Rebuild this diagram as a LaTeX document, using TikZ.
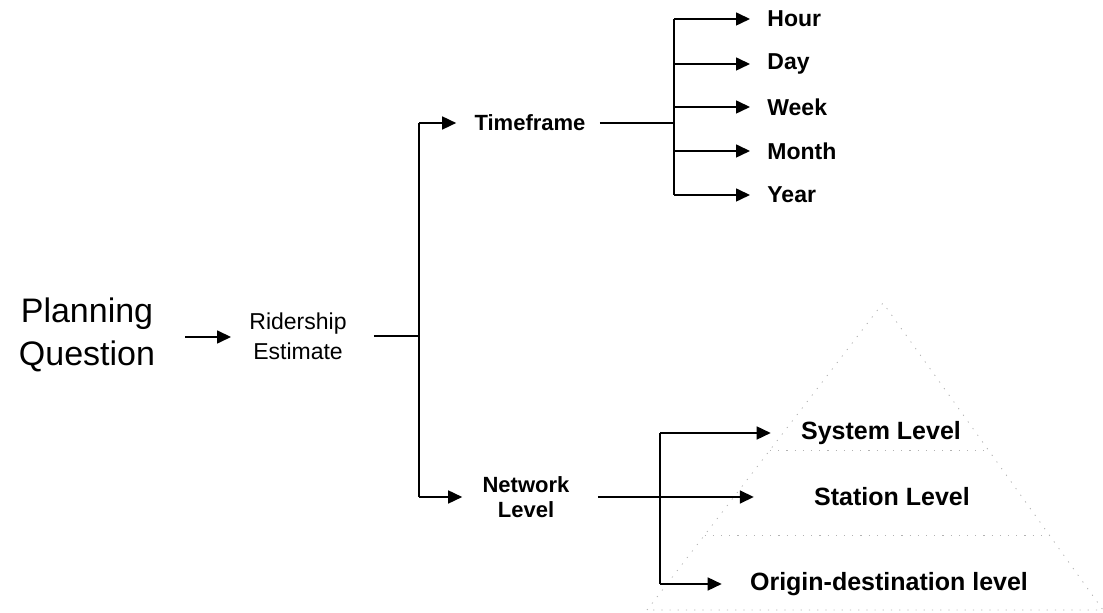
\documentclass[tikz,border=0pt]{standalone}
\usepackage{fontspec}
\setmainfont{Liberation Sans}
\usetikzlibrary{arrows.meta}
\usetikzlibrary{calc}

\begin{document}
\begin{tikzpicture}[x=0.5pt,y=-0.5pt,every node/.style={inner sep=0pt,align=center},wire/.style={line width=0.8pt},tip/.style={wire,-{Triangle[length=7pt,width=6.5pt]}},big/.style={font=\fontsize{17}{21.5}\selectfont},small/.style={font=\fontsize{11.5}{15}\selectfont},lvl/.style={font=\bfseries\fontsize{11}{12.5}\selectfont},unit/.style={font=\bfseries\fontsize{11.5}{13}\selectfont,anchor=west},tier/.style={font=\bfseries\fontsize{12.5}{14}\selectfont},pyr/.style={black!30,line width=0.4pt,dash pattern=on 0.6pt off 3.5pt}]
	\useasboundingbox (0,0) rectangle (1103,613);
	\coordinate (apex) at (883,303);
	\coordinate (bl) at (647,610);
	\coordinate (br) at (1103,610);
	\draw[pyr] (bl) -- (apex) -- (br) -- cycle;
	\draw[pyr] ($(apex)!0.479!(bl)$) -- ($(apex)!0.479!(br)$);
	\draw[pyr] ($(apex)!0.756!(bl)$) -- ($(apex)!0.756!(br)$);
	
	\node[big] (plan) at (87,335) {Planning\\Question};
	\node[small] (rider) at (298,336) {Ridership\\Estimate};
	\draw[tip] ([xshift=15pt,yshift=-1pt]plan.east) -- ([xshift=-9pt,yshift=-0.5pt]rider.west);
	
	\coordinate (split) at (419,336);
	\coordinate (splittop) at (419,123);
	\coordinate (splitbot) at (419,497);
	\draw[wire] ([xshift=13.5pt]rider.east) -- (split);
	\draw[wire] (splittop) -- (splitbot);
	
	\node[lvl] (time) at (530,123) {Timeframe};
	\node[lvl] (net) at (526,497) {Network\\Level};
	\draw[tip] (splittop) -- ([xshift=-9pt]time.west);
	\draw[tip] (splitbot) -- ([xshift=-10pt]net.west);
	
	\coordinate (timejoin) at (674,123);
	\draw[wire] ([xshift=7pt]time.east) -- (timejoin);
	\draw[wire] (674,19) -- (674,195);
	\foreach \name/\ypos/\txt in {hour/19/Hour,day/64/Day,week/107/Week,month/151/Month,year/195/Year}{
		\coordinate (from\name) at (674,\ypos);
		\node[unit] (\name) at (767,\ypos) {\txt};
		\draw[tip] (from\name) -- ([xshift=-8.5pt]\name.west);
	}
	
	\node[tier] (sys) at (881,433) {System Level};
	\node[tier] (stat) at (892,497) {Station Level};
	\node[tier] (od) at (889,584) {Origin-destination level};
	\coordinate (netjoin) at (660,497);
	\coordinate (nettop) at (660,433);
	\coordinate (netbot) at (660,584);
	\draw[wire] (nettop) -- (netbot);
	\draw[tip] ([xshift=14pt]net.east) -- ([xshift=-30pt]stat.west);
	\draw[tip] (nettop) -- ([xshift=-15pt]sys.west);
	\draw[tip] (netbot) -- ([xshift=-14pt]od.west);
\end{tikzpicture}
\end{document}
